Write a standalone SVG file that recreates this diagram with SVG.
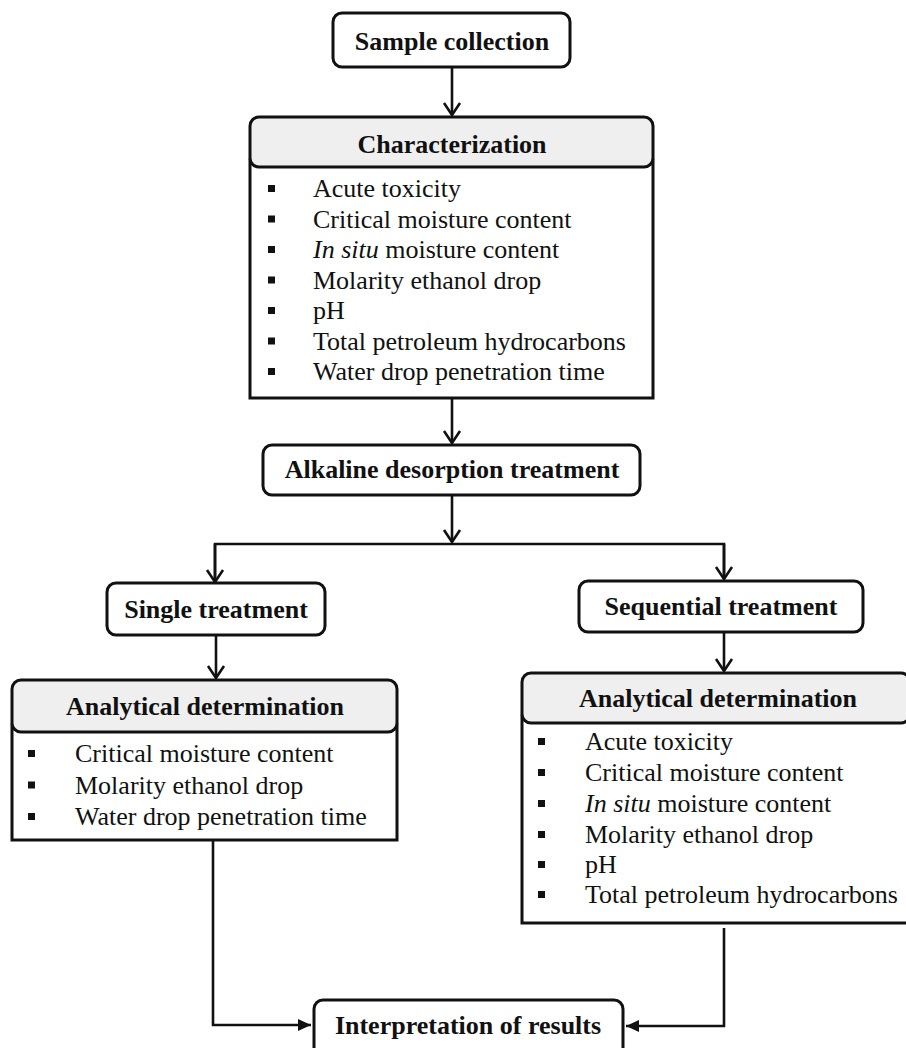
<svg xmlns="http://www.w3.org/2000/svg" width="906" height="1048" viewBox="0 0 906 1048">
<style>
.box{fill:#fff;stroke:#111;stroke-width:3}
.hdr{fill:#efefef;stroke:#111;stroke-width:3}
.t{font-family:'Liberation Serif','Times New Roman',serif;font-size:26px;fill:#111}
.b{font-weight:bold;text-anchor:middle}
.bul{fill:#111}
.c{fill:none;stroke:#111;stroke-width:2.6}
</style>
<defs>
<marker id="chev" viewBox="-15 -10 17 20" refX="0" refY="0" markerWidth="17" markerHeight="20" markerUnits="userSpaceOnUse" orient="auto">
<path d="M-12,-8 L0,0 L-12,8" fill="none" stroke="#111" stroke-width="2.6" stroke-linejoin="miter"/>
</marker>
<marker id="tri" viewBox="-14 -8 16 16" refX="0" refY="0" markerWidth="16" markerHeight="16" markerUnits="userSpaceOnUse" orient="auto">
<path d="M-13,-6 L0,0 L-13,6 Z" fill="#111"/>
</marker>
</defs>
<rect width="906" height="1048" fill="#fff"/>
<g id="connectors">
<line class="c" x1="452" y1="67" x2="452" y2="115" marker-end="url(#chev)"/>
<line class="c" x1="452" y1="398" x2="452" y2="443" marker-end="url(#chev)"/>
<line class="c" x1="452" y1="495" x2="452" y2="542" marker-end="url(#chev)"/>
<polyline class="c" points="215,582 215,544 724,544 724,579"/>
<line class="c" x1="215" y1="544" x2="215" y2="582" marker-end="url(#chev)"/>
<line class="c" x1="724" y1="544" x2="724" y2="579" marker-end="url(#chev)"/>
<line class="c" x1="216" y1="635" x2="216" y2="678" marker-end="url(#chev)"/>
<line class="c" x1="724" y1="632" x2="724" y2="671" marker-end="url(#chev)"/>
<polyline class="c" points="213,840 213,1025 311,1025" marker-end="url(#tri)"/>
<polyline class="c" points="724,928 724,1026 626,1026" marker-end="url(#tri)"/>
</g>
<g id="sample">
<rect class="box" x="333" y="13" width="237" height="54" rx="9"/>
<text class="t b" x="452" y="50">Sample collection</text>
</g>
<g id="characterization">
<rect class="box" x="250" y="160" width="403" height="238"/>
<rect class="hdr" x="250" y="117" width="403" height="50" rx="9"/>
<text class="t b" x="452" y="153">Characterization</text>
<g class="bul">
<rect x="268" y="185" width="7" height="7"/>
<rect x="268" y="215.5" width="7" height="7"/>
<rect x="268" y="246" width="7" height="7"/>
<rect x="268" y="276.5" width="7" height="7"/>
<rect x="268" y="307" width="7" height="7"/>
<rect x="268" y="337.5" width="7" height="7"/>
<rect x="268" y="368" width="7" height="7"/>
</g>
<text class="t" x="313" y="197">Acute toxicity</text>
<text class="t" x="313" y="227.5">Critical moisture content</text>
<text class="t" x="313" y="258"><tspan font-style="italic">In situ</tspan> moisture content</text>
<text class="t" x="313" y="288.5">Molarity ethanol drop</text>
<text class="t" x="313" y="319">pH</text>
<text class="t" x="313" y="349.5">Total petroleum hydrocarbons</text>
<text class="t" x="313" y="380">Water drop penetration time</text>
</g>
<g id="alkaline">
<rect class="box" x="263" y="445" width="377" height="50" rx="9"/>
<text class="t b" x="452" y="478">Alkaline desorption treatment</text>
</g>
<g id="single">
<rect class="box" x="107" y="583" width="218" height="52" rx="9"/>
<text class="t b" x="216" y="618">Single treatment</text>
</g>
<g id="sequential">
<rect class="box" x="579" y="581" width="284" height="51" rx="9"/>
<text class="t b" x="721" y="615">Sequential treatment</text>
</g>
<g id="analytical-left">
<rect class="box" x="12" y="725" width="385" height="115"/>
<rect class="hdr" x="12" y="680" width="385" height="52" rx="9"/>
<text class="t b" x="205" y="715">Analytical determination</text>
<g class="bul">
<rect x="28" y="750" width="7" height="7"/>
<rect x="28" y="781.5" width="7" height="7"/>
<rect x="28" y="813" width="7" height="7"/>
</g>
<text class="t" x="75" y="762">Critical moisture content</text>
<text class="t" x="75" y="793.5">Molarity ethanol drop</text>
<text class="t" x="75" y="825">Water drop penetration time</text>
</g>
<g id="analytical-right">
<rect class="box" x="522" y="716" width="388" height="207"/>
<rect class="hdr" x="522" y="673" width="388" height="50" rx="9"/>
<text class="t b" x="718" y="707">Analytical determination</text>
<g class="bul">
<rect x="538" y="738" width="7" height="7"/>
<rect x="538" y="769" width="7" height="7"/>
<rect x="538" y="800" width="7" height="7"/>
<rect x="538" y="831" width="7" height="7"/>
<rect x="538" y="861" width="7" height="7"/>
<rect x="538" y="891" width="7" height="7"/>
</g>
<text class="t" x="585" y="750">Acute toxicity</text>
<text class="t" x="585" y="781">Critical moisture content</text>
<text class="t" x="585" y="812"><tspan font-style="italic">In situ</tspan> moisture content</text>
<text class="t" x="585" y="843">Molarity ethanol drop</text>
<text class="t" x="585" y="873">pH</text>
<text class="t" x="585" y="903">Total petroleum hydrocarbons</text>
</g>
<g id="interpretation">
<rect class="box" x="314" y="1000" width="309" height="56" rx="9"/>
<text class="t b" x="468" y="1034">Interpretation of results</text>
</g>
</svg>
